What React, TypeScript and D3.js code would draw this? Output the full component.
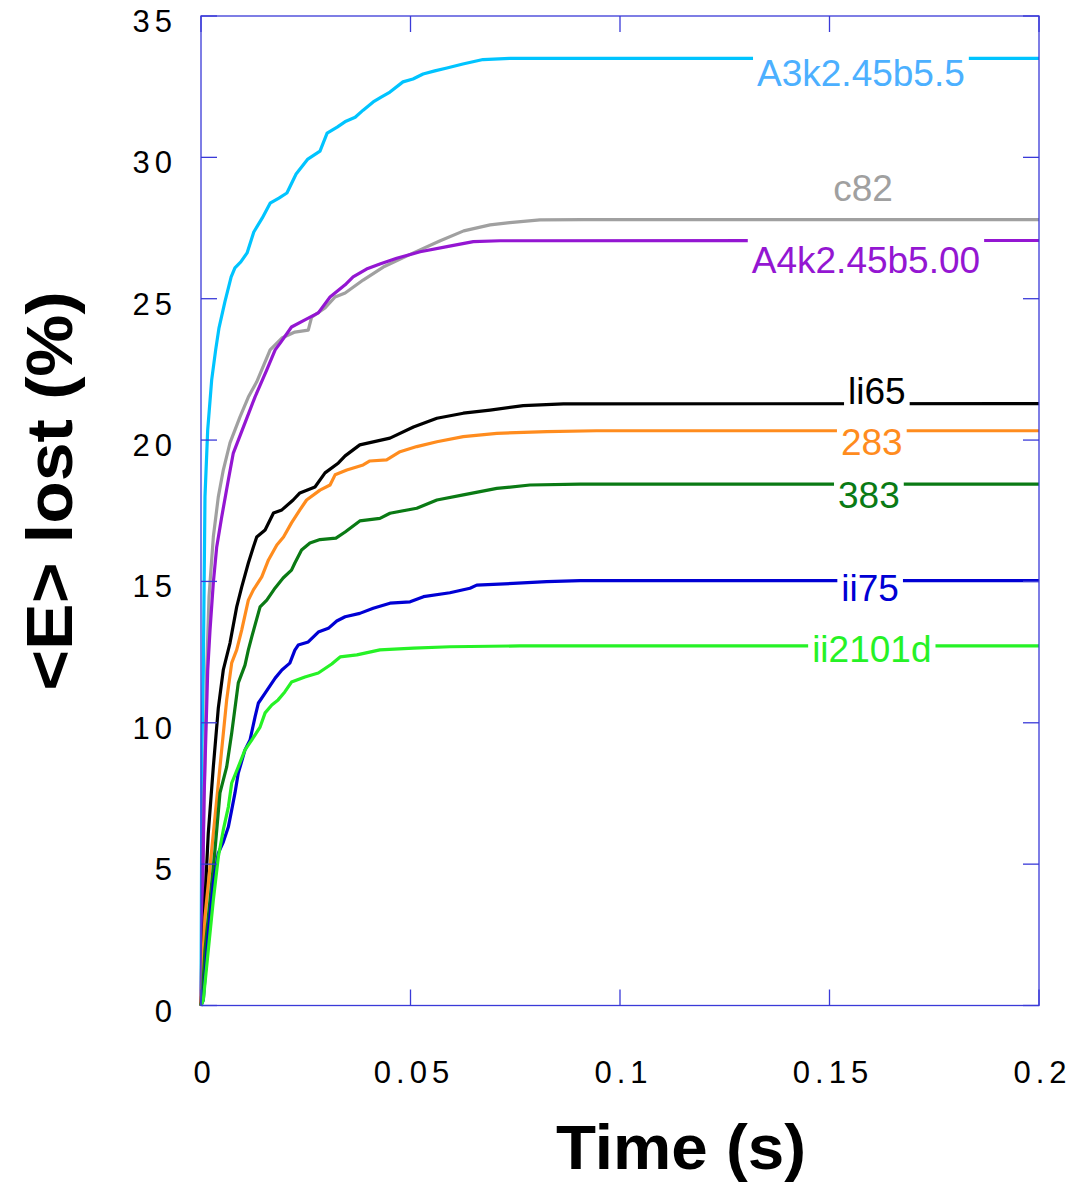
import React, { useEffect, useRef } from 'react';
import * as d3 from 'd3';

// ---------- axis ticks ----------
const xTicks = [0, 0.05, 0.1, 0.15, 0.2];
const xTickLabels = ['0', '0.05', '0.1', '0.15', '0.2'];
const yTicks = [0, 5, 10, 15, 20, 25, 30, 35];
const yTickLabels = ['0', '5', '10', '15', '20', '25', '30', '35'];

// ---------- series (time s, <E> lost %) ----------
const seriesA3k: [number, number][] = [
  [0, 0], [0.00024, 9.21], [0.00055, 11.87], [0.00095, 17.99], [0.0016, 20.36], [0.00255, 22.13],
  [0.0035, 23.19], [0.0043, 23.97], [0.0057, 24.89], [0.0072, 25.77], [0.0081, 26.09], [0.0095, 26.3],
  [0.011, 26.62], [0.0126, 27.36], [0.0146, 27.85], [0.0165, 28.38], [0.0186, 28.56], [0.0205, 28.74],
  [0.0227, 29.41], [0.0255, 29.94], [0.0284, 30.22], [0.0301, 30.86], [0.0325, 31.07], [0.0346, 31.28],
  [0.0368, 31.42], [0.0387, 31.67], [0.0411, 31.96], [0.043, 32.13], [0.0451, 32.31], [0.0482, 32.67],
  [0.0506, 32.77], [0.053, 32.95], [0.0558, 33.06], [0.0587, 33.16], [0.0625, 33.3], [0.0673, 33.46],
  [0.0737, 33.5], [0.2, 33.5],
];
const seriesC82: [number, number][] = [
  [0, 0], [0.00048, 5.5], [0.00136, 11.87], [0.00191, 14.45], [0.00294, 16.57], [0.00413, 17.99],
  [0.00532, 18.94], [0.00692, 19.9], [0.00931, 20.82], [0.0113, 21.52], [0.0133, 22.06], [0.0165, 23.19],
  [0.0193, 23.61], [0.0224, 23.82], [0.0256, 23.89], [0.0264, 24.35], [0.0296, 24.67], [0.032, 25.06],
  [0.0344, 25.2], [0.0387, 25.66], [0.0435, 26.12], [0.0507, 26.62], [0.0571, 27.05], [0.0627, 27.4],
  [0.069, 27.61], [0.0737, 27.69], [0.0809, 27.79], [0.0912, 27.8], [0.2, 27.8],
];
const seriesA4k: [number, number][] = [
  [0, 0], [0.00072, 7.27], [0.0016, 11.85], [0.00215, 13.28], [0.00294, 14.95], [0.00375, 16.22],
  [0.00494, 17.28], [0.00652, 18.59], [0.00771, 19.54], [0.0105, 20.61], [0.0129, 21.53], [0.0157, 22.48],
  [0.0177, 23.19], [0.0189, 23.43], [0.0216, 24.0], [0.0248, 24.25], [0.028, 24.5], [0.0308, 25.06],
  [0.0344, 25.49], [0.0363, 25.77], [0.0395, 26.05], [0.0427, 26.23], [0.0467, 26.43], [0.0523, 26.66],
  [0.0587, 26.84], [0.065, 27.02], [0.0714, 27.05], [0.2, 27.06],
];
const seriesLi65: [number, number][] = [
  [0, 0], [0.00031, 0.8], [0.00095, 3.73], [0.00174, 6.1], [0.00294, 8.44], [0.00413, 10.52],
  [0.00532, 11.87], [0.00692, 12.82], [0.00852, 14.1], [0.00971, 14.8], [0.0113, 15.65], [0.0125, 16.22],
  [0.0133, 16.57], [0.0153, 16.82], [0.0173, 17.42], [0.0193, 17.53], [0.022, 17.88], [0.0236, 18.13],
  [0.0272, 18.34], [0.0296, 18.84], [0.0328, 19.19], [0.0344, 19.44], [0.0379, 19.83], [0.0451, 20.07],
  [0.0507, 20.46], [0.0563, 20.77], [0.0626, 20.95], [0.069, 21.06], [0.0769, 21.22], [0.0865, 21.28],
  [0.2, 21.29],
];
const series283: [number, number][] = [
  [0, 0], [0.00017, 0.8], [0.00095, 3.13], [0.00215, 4.9], [0.00334, 6.67], [0.00453, 8.44],
  [0.00613, 10.81], [0.00733, 12.12], [0.00852, 12.58], [0.00971, 13.28], [0.0113, 14.34], [0.0125, 14.7],
  [0.0145, 15.16], [0.0161, 15.76], [0.0181, 16.29], [0.0197, 16.57], [0.0216, 17.07], [0.0236, 17.53],
  [0.0252, 17.88], [0.0284, 18.23], [0.0308, 18.41], [0.032, 18.77], [0.0348, 18.94], [0.0387, 19.12],
  [0.0403, 19.26], [0.0443, 19.3], [0.0475, 19.59], [0.0515, 19.77], [0.0563, 19.94], [0.0626, 20.12],
  [0.0706, 20.24], [0.0825, 20.3], [0.0944, 20.33], [0.2, 20.33],
];
const series383: [number, number][] = [
  [0, 0], [0.00031, 0.3], [0.00095, 1.96], [0.00215, 3.73], [0.00334, 5.5], [0.00453, 7.52],
  [0.00613, 8.44], [0.00733, 9.64], [0.0089, 11.41], [0.0105, 12.04], [0.0113, 12.58], [0.0121, 13.03],
  [0.0141, 14.1], [0.0157, 14.34], [0.0177, 14.77], [0.0196, 15.12], [0.0216, 15.4], [0.0224, 15.65],
  [0.024, 16.11], [0.026, 16.36], [0.0284, 16.48], [0.0322, 16.53], [0.0344, 16.75], [0.0379, 17.14],
  [0.0427, 17.23], [0.0451, 17.41], [0.0515, 17.59], [0.0563, 17.88], [0.0626, 18.06], [0.0706, 18.29],
  [0.0785, 18.41], [0.0905, 18.44], [0.2, 18.44],
];
const seriesIi75: [number, number][] = [
  [0, 0], [0.00055, 0.19], [0.00174, 2.56], [0.00294, 4.33], [0.00413, 5.39], [0.00532, 5.78],
  [0.00652, 6.31], [0.00733, 6.92], [0.00811, 7.52], [0.0089, 8.22], [0.0105, 9.04], [0.0117, 9.39],
  [0.0129, 10.21], [0.0137, 10.7], [0.0153, 11.05], [0.0177, 11.58], [0.0193, 11.87], [0.0212, 12.11],
  [0.0224, 12.57], [0.0232, 12.75], [0.0256, 12.86], [0.028, 13.21], [0.0304, 13.34], [0.0324, 13.6],
  [0.0344, 13.75], [0.0379, 13.87], [0.0411, 14.05], [0.0451, 14.23], [0.0499, 14.28], [0.0531, 14.46],
  [0.0594, 14.6], [0.0642, 14.76], [0.0658, 14.87], [0.0745, 14.93], [0.0825, 14.99], [0.0905, 15.03],
  [0.2, 15.03],
];
const seriesIi2101d: [number, number][] = [
  [0, 0], [0.00055, 0.19], [0.00174, 1.96], [0.00294, 3.73], [0.00413, 5.25], [0.00532, 6.21],
  [0.00652, 7.02], [0.00733, 7.87], [0.0089, 8.44], [0.0105, 9.04], [0.0121, 9.39], [0.0141, 9.85],
  [0.0153, 10.35], [0.0169, 10.63], [0.0184, 10.81], [0.02, 11.09], [0.0216, 11.44], [0.0248, 11.62],
  [0.028, 11.76], [0.0312, 12.08], [0.0332, 12.33], [0.0372, 12.4], [0.0427, 12.58], [0.0507, 12.64],
  [0.0594, 12.69], [0.0761, 12.72], [0.2, 12.72],
];

const seriesNames = ['A3k2.45b5.5', 'c82', 'A4k2.45b5.00', 'li65', '283', '383', 'ii75', 'ii2101d'];
const seriesData = [seriesA3k, seriesC82, seriesA4k, seriesLi65, series283, series383, seriesIi75, seriesIi2101d];
const lineColors = ['#00c4ff', '#a0a0a0', '#9416d2', '#000000', '#ff8c1e', '#0a7a14', '#0000d4', '#26f226'];
const labelColors = ['#4cb0ff', '#a0a0a0', '#9416d2', '#000000', '#ff8c1e', '#0a7a14', '#0000d4', '#26f226'];
// label placement: time of label centre, and pixel offset of baseline from the line
const labelTimes = [0.1575, 0.158, 0.1587, 0.1613, 0.1601, 0.1594, 0.1597, 0.1601];
const labelDy = [28, -19, 33, 0, 24, 24, 20, 16];

const W = 1075;
const H = 1182;
const FONT = '"Liberation Sans", Arial, Helvetica, sans-serif';

export default function App() {
  const ref = useRef<SVGSVGElement | null>(null);

  useEffect(() => {
    const svg = d3.select(ref.current);
    svg.selectAll('*').remove();

    const x = d3.scaleLinear().domain([0, 0.2]).range([201, 1039]);
    const y = d3.scaleLinear().domain([0, 35]).range([1005.5, 16]);

    const frameColor = '#3a3ad8';
    const tickLen = 16;

    // curves
    const line = d3.line<[number, number]>().x((d) => x(d[0])).y((d) => y(d[1]));
    const gLines = svg.append('g');
    seriesData.forEach((data, i) => {
      gLines.append('path')
        .attr('d', line(data) as string)
        .attr('fill', 'none')
        .attr('stroke', lineColors[i])
        .attr('stroke-width', 3.2)
        .attr('stroke-linejoin', 'round');
    });

    // frame
    const gAxis = svg.append('g');
    gAxis.append('rect')
      .attr('x', x(0)).attr('y', y(35))
      .attr('width', x(0.2) - x(0)).attr('height', y(0) - y(35))
      .attr('fill', 'none').attr('stroke', frameColor).attr('stroke-width', 1.3);

    yTicks.forEach((v) => {
      gAxis.append('line').attr('x1', x(0)).attr('x2', x(0) + tickLen).attr('y1', y(v)).attr('y2', y(v))
        .attr('stroke', frameColor).attr('stroke-width', 1.3);
      gAxis.append('line').attr('x1', x(0.2)).attr('x2', x(0.2) - tickLen).attr('y1', y(v)).attr('y2', y(v))
        .attr('stroke', frameColor).attr('stroke-width', 1.3);
    });
    xTicks.forEach((t) => {
      gAxis.append('line').attr('x1', x(t)).attr('x2', x(t)).attr('y1', y(0)).attr('y2', y(0) - tickLen)
        .attr('stroke', frameColor).attr('stroke-width', 1.3);
      gAxis.append('line').attr('x1', x(t)).attr('x2', x(t)).attr('y1', y(35)).attr('y2', y(35) + tickLen)
        .attr('stroke', frameColor).attr('stroke-width', 1.3);
    });

    // tick labels
    yTicks.forEach((v, i) => {
      gAxis.append('text')
        .attr('x', 177).attr('y', y(v) + 16)
        .attr('text-anchor', 'end')
        .attr('font-family', FONT).attr('font-size', 31)
        .attr('letter-spacing', 5)
        .attr('fill', '#000')
        .text(yTickLabels[i]);
    });
    xTicks.forEach((t, i) => {
      gAxis.append('text')
        .attr('x', x(t) + 3.5).attr('y', 1083)
        .attr('text-anchor', 'middle')
        .attr('font-family', FONT).attr('font-size', 31)
        .attr('letter-spacing', 5)
        .attr('fill', '#000')
        .text(xTickLabels[i]);
    });

    // axis titles
    svg.append('text')
      .attr('transform', 'translate(681,1169) scale(1.04,1)')
      .attr('text-anchor', 'middle')
      .attr('font-family', FONT).attr('font-size', 63).attr('font-weight', 'bold')
      .attr('fill', '#000')
      .text('Time (s)');
    svg.append('text')
      .attr('transform', 'translate(72,491) rotate(-90) scale(1.09,1)')
      .attr('text-anchor', 'middle')
      .attr('font-family', FONT).attr('font-size', 64).attr('font-weight', 'bold')
      .attr('fill', '#000')
      .text('<E> lost (%)');

    // series labels with white knock-out boxes
    const gLabels = svg.append('g');
    seriesData.forEach((data, i) => {
      const last = data[data.length - 1];
      const g = gLabels.append('g');
      const txt = g.append('text')
        .attr('x', x(labelTimes[i]))
        .attr('y', y(last[1]) + labelDy[i])
        .attr('text-anchor', 'middle')
        .attr('font-family', FONT).attr('font-size', 37)
        .attr('fill', labelColors[i])
        .text(seriesNames[i]);
      const bb = (txt.node() as SVGTextElement).getBBox();
      g.insert('rect', 'text')
        .attr('x', bb.x - 4).attr('y', bb.y - 3)
        .attr('width', bb.width + 8).attr('height', bb.height + 3)
        .attr('fill', '#fff');
    });
  }, []);

  return (
    <svg
      ref={ref}
      width={W}
      height={H}
      viewBox={`0 0 ${W} ${H}`}
      style={{ position: 'absolute', left: 0, top: 0, background: '#fff' }}
    />
  );
}
